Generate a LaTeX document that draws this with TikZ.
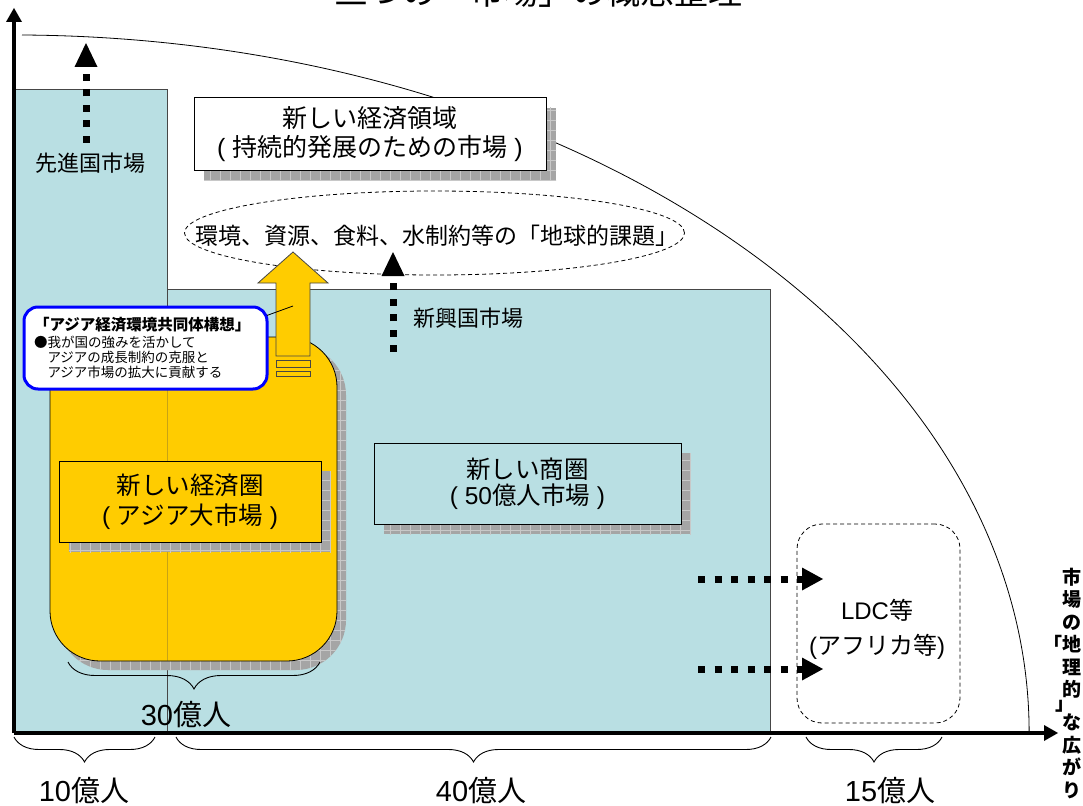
\documentclass[tikz,border=0pt]{standalone}
\usepackage{fontspec}
\setmainfont{Noto Sans CJK JP}
\newfontfamily\lat{Liberation Sans}
\usetikzlibrary{arrows.meta,shapes.geometric,decorations.pathreplacing}
\definecolor{skyb}{RGB}{185,223,227}
\definecolor{gold}{RGB}{255,204,0}
\definecolor{shadowgray}{RGB}{165,165,165}
\definecolor{shadowgrid}{RGB}{200,200,200}
\definecolor{edgegray}{RGB}{70,70,70}
\newcommand\shadowfill[1]{%
  \fill[shadowgray] #1;
  \begin{scope}\clip #1;
    \draw[shadowgrid,line width=0.6pt,step=10pt] (0,0) grid (1083,805);
  \end{scope}}
\begin{document}
\begin{tikzpicture}[x=1pt,y=-1pt,
  every node/.style={inner sep=0pt, outer sep=0pt},
  market/.style={fill=skyb, draw=edgegray, line width=0.8pt},
  plate/.style={draw=black, line width=1pt, align=center},
  dotup/.style={line width=7pt, dash pattern=on 7pt off 8.5pt, -{Triangle[length=24pt,width=23pt,line width=0pt]}},
  dotright/.style={line width=7pt, dash pattern=on 7pt off 9.5pt, -{Triangle[length=21pt,width=23pt,line width=0pt]}},
  bracedown/.style={decorate, decoration={brace, mirror, amplitude=#1}, line width=0.9pt},
  axisline/.style={line width=4pt, -{Triangle[length=14pt,width=16pt,line width=0pt]}},
  num/.style={font=\fontsize{29}{33}\selectfont},
]
\useasboundingbox (0,0) rectangle (1083,805);

% title (cut off at the top)
\node[font=\fontsize{34}{40}\selectfont, anchor=base] (title) at (538,5) {三つの「市場」の概念整理};

% markets
\node[market, minimum width=153pt, minimum height=644pt] (adv) at (90.5,411) {};
\node[market, minimum width=603pt, minimum height=444pt] (emg) at (468.5,511) {};

% outer arc
\draw[line width=0.8pt] (22,35) arc[start angle=89.5, end angle=0, x radius=1016pt, y radius=698pt];

% new economic domain box
\shadowfill{(204,108) rectangle (556,181)}
\node[plate, fill=white, minimum width=352pt, minimum height=73pt, font=\fontsize{25}{29}\selectfont] (domain) at (370,134.5) {新しい経済領域\\{\lat ( }持続的発展のための市場{\lat{} )}};

% global issues ellipse
\node[draw, dashed, dash pattern=on 4pt off 3pt, ellipse, minimum width=500pt, minimum height=84pt, line width=0.8pt] (issues) at (434.5,233) {};
\node[font=\fontsize{23}{27}\selectfont] (issuestext) at (437,236) {環境、資源、食料、水制約等の「地球的課題」};

% labels of markets
\node[font=\fontsize{22}{24}\selectfont] (advlabel) at (90,163) {先進国市場};
\node[font=\fontsize{22}{24}\selectfont] (emglabel) at (468,318) {新興国市場};

% Asian market (yellow)
\shadowfill{(58,345) [rounded corners=50pt] rectangle (346,670)}
\node[fill=gold, draw=black, line width=0.8pt, rounded corners=50pt, minimum width=287pt, minimum height=324pt] (asia) at (193.5,499) {};
\draw[edgegray, opacity=0.3, line width=0.8pt] (167,337) -- (167,661);

\shadowfill{(69,471) rectangle (331,552)}
\node[plate, fill=gold, minimum width=262pt, minimum height=81pt, font=\fontsize{24.5}{30}\selectfont] (asiabox) at (190,501.5) {新しい経済圏\\{\lat ( }アジア大市場{\lat{} )}};

\shadowfill{(384,453) rectangle (691,534)}
\node[plate, fill=skyb, minimum width=307pt, minimum height=81pt, font=\fontsize{24.5}{26}\selectfont] (tradebox) at (527.5,483.5) {新しい商圏\\{\lat ( 50}億人市場{\lat{} )}};

% yellow block arrow
\filldraw[fill=gold, draw=edgegray, line width=0.8pt] (276,356) -- (276,283) -- (258,283) -- (293,252) -- (328,283) -- (310,283) -- (310,356) -- cycle;
\filldraw[fill=gold, draw=edgegray, line width=0.8pt] (276,360) rectangle (310,367);
\filldraw[fill=gold, draw=edgegray, line width=0.8pt] (276,371) rectangle (310,376);

% callout
\coordinate (pin) at (293,306);
\node[draw=blue, line width=3pt, fill=white, rounded corners=14pt, minimum width=243pt, minimum height=82pt] (callout) at (145.5,348) {};
\draw[line width=0.8pt] (callout.15) -- (pin);
\node[anchor=west, align=left, font=\fontsize{13.5}{15}\selectfont] (calltext) at (34,348) {{\bfseries\fontsize{15.5}{17}\selectfont 「アジア経済環境共同体構想」}\\[2pt]●我が国の強みを活かして\\\phantom{●}アジアの成長制約の克服と\\\phantom{●}アジア市場の拡大に貢献する};

% dotted arrows
\coordinate (up1s) at (86,143); \coordinate (up1e) at (86,43);
\draw[dotup] (up1s) -- (up1e);
\coordinate (up2s) at (393,352); \coordinate (up2e) at (393,252);
\draw[dotup] (up2s) -- (up2e);

% LDC
\node[draw, dashed, dash pattern=on 4pt off 3pt, line width=0.8pt, rounded corners=25pt, minimum width=163pt, minimum height=199pt] (ldc) at (878.5,623.5) {};
\node[font=\fontsize{24}{35}\selectfont, align=center] (ldctext) at (877,629) {{\lat LDC}等\\{\lat (}アフリカ等{\lat )}};
\coordinate (r1s) at (698,579); \coordinate (r1e) at (823,579);
\coordinate (r2s) at (698,669); \coordinate (r2e) at (823,669);
\draw[dotright] (r1s) -- (r1e);
\draw[dotright] (r2s) -- (r2e);

% braces
\coordinate (b30a) at (68,662); \coordinate (b30b) at (320,662);
\draw[bracedown=27pt] (b30a) -- (b30b);
\node[num] (n30) at (186,714) {{\lat 30}億人};
\coordinate (b10a) at (14,737); \coordinate (b10b) at (155,737);
\draw[bracedown=25pt] (b10a) -- (b10b);
\node[num] (n10) at (84,790) {{\lat 10}億人};
\coordinate (b40a) at (176,737); \coordinate (b40b) at (771,737);
\draw[bracedown=25pt] (b40a) -- (b40b);
\node[num] (n40) at (481,790) {{\lat 40}億人};
\coordinate (b15a) at (806,737); \coordinate (b15b) at (942,737);
\draw[bracedown=25pt] (b15a) -- (b15b);
\node[num] (n15) at (890,790) {{\lat 15}億人};

% axes
\coordinate (origin) at (14,733);
\coordinate (yend) at (14,8);
\coordinate (xend) at (1058,733);
\draw[axisline] (origin) -- (yend);
\draw[axisline] (origin) -- (xend);

% vertical axis label
\node[font=\bfseries\fontsize{19}{22.5}\selectfont, align=center, anchor=north] (geo) at (1072,568) {市\\場\\の\\\llap{「}地\\理\\的\\[-9pt]\hspace*{-14pt}」\\[-3pt]な\\広\\が\\り};
\end{tikzpicture}
\end{document}
